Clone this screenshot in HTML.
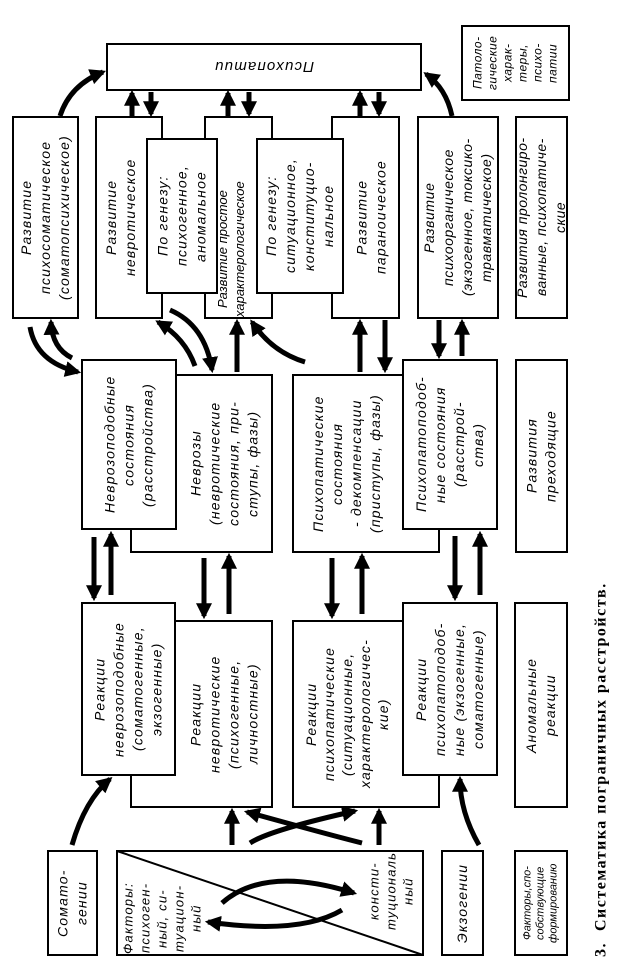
<!DOCTYPE html>
<html><head><meta charset="utf-8">
<style>
html,body{margin:0;padding:0;background:#fff;}
body{width:620px;height:961px;position:relative;overflow:hidden;font-family:"Liberation Sans","DejaVu Sans",sans-serif;}
.b{position:absolute;border:2px solid #000;background:#fff;box-sizing:border-box;}
.t{position:absolute;writing-mode:vertical-rl;transform:rotate(180deg);display:flex;align-items:center;justify-content:center;text-align:center;font-style:italic;font-size:14px;line-height:19px;letter-spacing:1.2px;white-space:nowrap;color:#000;}
svg{position:absolute;left:0;top:0;}
</style></head><body>

<div class="b" style="left:130px;top:374px;width:143px;height:179px"></div>
<div class="b" style="left:292px;top:374px;width:148px;height:179px"></div>
<div class="b" style="left:130px;top:620px;width:143px;height:188px"></div>
<div class="b" style="left:292px;top:620px;width:148px;height:188px"></div>

<div class="b" style="left:106px;top:43px;width:316px;height:48px"></div>
<div class="t" style="left:106px;top:43px;width:316px;height:48px;writing-mode:horizontal-tb;font-size:15px;">Психопатии</div>

<div class="b" style="left:461px;top:25px;width:109px;height:76px"></div>
<div class="t" style="left:461px;top:25px;width:109px;height:76px;font-size:12px;line-height:15px;letter-spacing:0.5px">Патоло-<br>гические<br>харак-<br>теры,<br>психо-<br>патии</div>

<div class="b" style="left:12px;top:116px;width:67px;height:203px"></div>
<div class="t" style="left:12px;top:116px;width:67px;height:203px">Развитие<br>психосоматическое<br>(соматопсихическое)</div>

<div class="b" style="left:95px;top:116px;width:68px;height:203px"></div>
<div class="t" style="left:95px;top:116px;width:52px;height:203px">Развитие<br>невротическое</div>

<div class="b" style="left:204px;top:116px;width:69px;height:203px"></div>
<div class="t" style="left:206px;top:118px;width:50px;height:199px;font-size:13px;line-height:17px;letter-spacing:0;justify-content:flex-start">Развитие простое<br>характерологическое</div>

<div class="b" style="left:146px;top:138px;width:72px;height:156px"></div>
<div class="t" style="left:146px;top:138px;width:72px;height:156px">По генезу:<br>психогенное,<br>аномальное</div>

<div class="b" style="left:331px;top:116px;width:69px;height:203px"></div>
<div class="t" style="left:343px;top:116px;width:57px;height:203px">Развитие<br>параноическое</div>

<div class="b" style="left:256px;top:138px;width:88px;height:156px"></div>
<div class="t" style="left:256px;top:138px;width:88px;height:156px">По генезу:<br>ситуационное,<br>конституцио-<br>нальное</div>

<div class="b" style="left:417px;top:116px;width:82px;height:203px"></div>
<div class="t" style="left:417px;top:116px;width:82px;height:203px;letter-spacing:0.6px">Развитие<br>психоорганическое<br>(экзогенное, токсико-<br>травматическое)</div>

<div class="b" style="left:515px;top:116px;width:53px;height:203px"></div>
<div class="t" style="left:515px;top:116px;width:53px;height:203px;letter-spacing:0.5px">Развития пролонгиро-<br>ванные, психопатиче-<br>ские</div>

<div class="t" style="left:176px;top:374px;width:97px;height:179px">Неврозы<br>(невротические<br>состояния, при-<br>ступы, фазы)</div>
<div class="b" style="left:81px;top:359px;width:96px;height:171px"></div>
<div class="t" style="left:81px;top:359px;width:96px;height:171px">Неврозоподобные<br>состояния<br>(расстройства)</div>

<div class="t" style="left:292px;top:374px;width:110px;height:179px">Психопатические<br>состояния<br>- декомпенсации<br>(приступы, фазы)</div>
<div class="b" style="left:402px;top:359px;width:96px;height:171px"></div>
<div class="t" style="left:402px;top:359px;width:96px;height:171px">Психопатопо­доб-<br>ные состояния<br>(расстрой-<br>ства)</div>

<div class="b" style="left:515px;top:359px;width:53px;height:194px"></div>
<div class="t" style="left:515px;top:359px;width:53px;height:194px">Развития<br>преходящие</div>

<div class="t" style="left:176px;top:620px;width:97px;height:188px">Реакции<br>невротические<br>(психогенные,<br>личностные)</div>
<div class="b" style="left:81px;top:602px;width:95px;height:174px"></div>
<div class="t" style="left:81px;top:602px;width:95px;height:174px">Реакции<br>неврозоподобные<br>(соматогенные,<br>экзогенные)</div>

<div class="t" style="left:292px;top:620px;width:110px;height:188px;line-height:18px">Реакции<br>психопатические<br>(ситуационные,<br>характерологичес-<br>кие)</div>
<div class="b" style="left:402px;top:602px;width:96px;height:174px"></div>
<div class="t" style="left:402px;top:602px;width:96px;height:174px">Реакции<br>психопатопо­доб-<br>ные (экзогенные,<br>соматогенные)</div>

<div class="b" style="left:514px;top:602px;width:54px;height:206px"></div>
<div class="t" style="left:514px;top:602px;width:54px;height:206px">Аномальные<br>реакции</div>

<div class="b" style="left:47px;top:850px;width:51px;height:106px"></div>
<div class="t" style="left:47px;top:850px;width:51px;height:106px">Сомато-<br>гении</div>

<div class="b" style="left:116px;top:850px;width:308px;height:106px"></div>
<div class="t" style="left:118px;top:856px;width:88px;height:98px;justify-content:flex-start;font-size:13px;line-height:17px">Факторы:<br>психоген-<br>ный, си-<br>туацион-<br>ный</div>
<div class="t" style="left:360px;top:852px;width:62px;height:98px;justify-content:flex-end;font-size:13px;line-height:17px">консти-<br>туциональ<br>ный</div>

<div class="b" style="left:441px;top:850px;width:43px;height:106px"></div>
<div class="t" style="left:441px;top:850px;width:43px;height:106px">Экзогении</div>

<div class="b" style="left:514px;top:850px;width:54px;height:106px"></div>
<div class="t" style="left:514px;top:850px;width:54px;height:106px;font-size:11px;line-height:13px;letter-spacing:0">Факторы,спо-<br>собствующие<br>формированию</div>

<div class="t" style="left:586px;top:577px;width:30px;height:380px;justify-content:flex-start;font-style:normal;font-weight:bold;font-family:'Liberation Serif',serif;font-size:16px;letter-spacing:1.5px">3.&nbsp; Систематика пограничных расстройств.</div>

<svg width="620" height="961" viewBox="0 0 620 961">
<defs>
<marker id="a" viewBox="0 0 10 10" refX="8" refY="5" markerWidth="3.2" markerHeight="3.2" orient="auto" markerUnits="strokeWidth"><path d="M0,0 L10,5 L0,10 z" fill="#000"/></marker>
</defs>
<g stroke="#000" stroke-width="5" fill="none" marker-end="url(#a)">
<path d="M60,116 Q70,85 103,72"/>
<path d="M452,116 Q446,88 426,74"/>
<path d="M132,116 L132,93"/><path d="M151,92 L151,114"/>
<path d="M228,116 L228,93"/><path d="M249,92 L249,114"/>
<path d="M360,116 L360,93"/><path d="M379,92 L379,114"/>
<path d="M30,327 Q36,362 78,372"/>
<path d="M72,358 Q52,348 51,322"/>
<path d="M195,366 Q185,338 158,322"/>
<path d="M170,310 Q205,325 212,370"/>
<path d="M237,372 L237,322"/>
<path d="M305,362 Q272,352 252,322"/>
<path d="M360,372 L360,322"/><path d="M385,320 L385,370"/>
<path d="M439,320 L439,356"/><path d="M462,356 L462,322"/>
<path d="M94,537 L94,598"/><path d="M111,595 L111,534"/>
<path d="M204,558 L204,616"/><path d="M229,614 L229,556"/>
<path d="M332,558 L332,616"/><path d="M362,614 L362,556"/>
<path d="M455,536 L455,598"/><path d="M480,595 L480,534"/>
<path d="M72,845 Q85,800 110,779"/>
<path d="M479,845 Q460,812 460,779"/>
<path d="M232,845 L232,811"/><path d="M379,845 L379,811"/>
<path d="M250,843 Q270,830 355,811"/>
<path d="M362,843 Q330,835 247,812"/>
<path d="M222,903 Q265,865 354,893"/>
<path d="M342,910 Q300,935 208,922"/>
</g>
<line x1="117" y1="851" x2="423" y2="955" stroke="#000" stroke-width="2"/>
</svg>
</body></html>
